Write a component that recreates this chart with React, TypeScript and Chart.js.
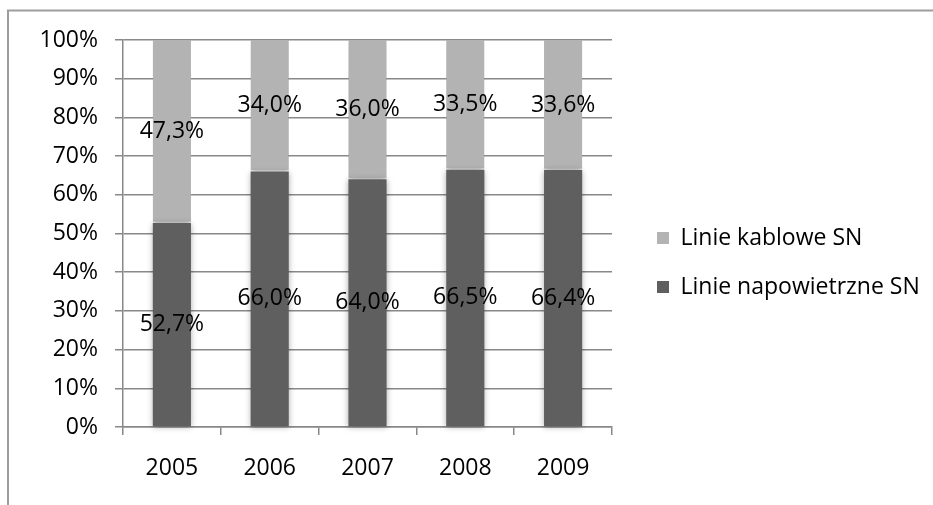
import React, { useEffect, useRef } from "react";
import { Chart, registerables } from "chart.js";

Chart.register(...registerables);

// Share of medium-voltage lines by type, per year (percent of total length)
const years = ["2005", "2006", "2007", "2008", "2009"];
const overheadLines = [52.7, 66.0, 64.0, 66.5, 66.4];
const cableLines = [47.3, 34.0, 36.0, 33.5, 33.6];
const seriesNames = ["Linie napowietrzne SN", "Linie kablowe SN"];
const seriesColors = ["#5f5f5f", "#b3b3b3"];

const FONT_FAMILY = "'Open Sans', Lato, sans-serif";
const FONT_SIZE = 23;
const GRID_COLOR = "#888888";

const formatPercent = (v: number) => v.toFixed(1).replace(".", ",") + "%";

// Outer frame of the chart object (only top and left edges fall inside the canvas)
const framePlugin = {
  id: "frame",
  beforeDraw(chart: any) {
    const ctx = chart.ctx;
    ctx.save();
    ctx.fillStyle = "#ffffff";
    ctx.fillRect(0, 0, chart.width, chart.height);
    ctx.strokeStyle = "#9d9d9d";
    ctx.lineWidth = 2;
    ctx.beginPath();
    ctx.moveTo(8, chart.height + 10);
    ctx.lineTo(8, 10.5);
    ctx.lineTo(chart.width + 10, 10.5);
    ctx.stroke();
    ctx.restore();
  },
};

// Soft shadow around the bar columns
const barShadowPlugin = {
  id: "barShadow",
  beforeDatasetsDraw(chart: any) {
    const ctx = chart.ctx;
    ctx.save();
    ctx.shadowColor = "rgba(0,0,0,0.32)";
    ctx.shadowBlur = 6;
    ctx.shadowOffsetX = 0;
    ctx.shadowOffsetY = 1;
  },
  afterDatasetsDraw(chart: any) {
    chart.ctx.restore();
  },
};

// Value labels in the middle of every stacked segment
const valueLabelPlugin = {
  id: "valueLabels",
  afterDatasetsDraw(chart: any) {
    const ctx = chart.ctx;
    ctx.save();
    ctx.shadowColor = "transparent";
    ctx.shadowBlur = 0;
    ctx.fillStyle = "#000000";
    ctx.font = `${FONT_SIZE}px ${FONT_FAMILY}`;
    ctx.textAlign = "center";
    ctx.textBaseline = "middle";
    chart.data.datasets.forEach((ds: any, di: number) => {
      const meta = chart.getDatasetMeta(di);
      meta.data.forEach((bar: any, i: number) => {
        const { x, y } = bar.getCenterPoint();
        ctx.fillText(formatPercent(ds.data[i]), x, y);
      });
    });
    ctx.restore();
  },
};

// Keep a gap between the plot area and the legend
const legendOffsetPlugin = {
  id: "legendOffset",
  afterLayout(chart: any) {
    const lg = chart.legend;
    if (!lg) return;
    const dx = 19;
    lg.left += dx;
    lg.right += dx;
  },
};

export default function App() {
  const canvasRef = useRef<HTMLCanvasElement | null>(null);

  useEffect(() => {
    const canvas = canvasRef.current;
    if (!canvas) return;
    const font = { family: FONT_FAMILY, size: FONT_SIZE };
    const chart = new Chart(canvas, {
      type: "bar",
      data: {
        labels: years,
        datasets: [
          {
            label: seriesNames[0],
            data: overheadLines,
            backgroundColor: seriesColors[0],
            borderWidth: 0,
            barPercentage: 0.39,
            categoryPercentage: 1,
            clip: false,
          },
          {
            label: seriesNames[1],
            data: cableLines,
            backgroundColor: seriesColors[1],
            borderColor: "#ffffff",
            borderWidth: { top: 0, left: 0, right: 0, bottom: 1.5 },
            borderSkipped: false,
            barPercentage: 0.39,
            categoryPercentage: 1,
            clip: false,
          },
        ],
      },
      options: {
        responsive: false,
        animation: false,
        devicePixelRatio: 1,
        layout: { padding: { top: 20, right: 0, bottom: 0, left: 0 } },
        plugins: {
          tooltip: { enabled: false },
          legend: {
            position: "right",
            reverse: true,
            maxWidth: 400,
            labels: {
              font,
              color: "#000000",
              boxWidth: 12,
              boxHeight: 12,
              padding: 26,
              generateLabels: (c: any) =>
                Chart.defaults.plugins.legend.labels
                  .generateLabels(c)
                  .map((item: any) => ({ ...item, lineWidth: 0 })),
            },
          },
        },
        scales: {
          x: {
            stacked: true,
            grid: {
              display: true,
              drawOnChartArea: false,
              drawTicks: true,
              tickLength: 8,
              color: GRID_COLOR,
              lineWidth: 1.5,
              offset: true,
            },
            border: { display: true, color: GRID_COLOR, width: 1.5 },
            ticks: { font, color: "#000000", padding: 20 },
            afterFit: (s: any) => {
              s.height = 78;
              s.paddingRight = 321;
            },
          },
          y: {
            stacked: true,
            min: 0,
            max: 100,
            ticks: {
              stepSize: 10,
              font,
              color: "#000000",
              padding: 17,
              callback: (v: any) => v + "%",
            },
            grid: { color: GRID_COLOR, lineWidth: 1.5, tickLength: 8 },
            border: { display: true, color: GRID_COLOR, width: 1.5 },
            afterFit: (s: any) => {
              s.width = 123;
              s.paddingTop = 40;
            },
          },
        },
      },
      plugins: [framePlugin, barShadowPlugin, valueLabelPlugin, legendOffsetPlugin],
    });
    return () => chart.destroy();
  }, []);

  return (
    <div style={{ position: "fixed", left: 0, top: 0, width: 933, height: 505, background: "#fff" }}>
      <canvas ref={canvasRef} width={933} height={505} style={{ display: "block" }} />
    </div>
  );
}
